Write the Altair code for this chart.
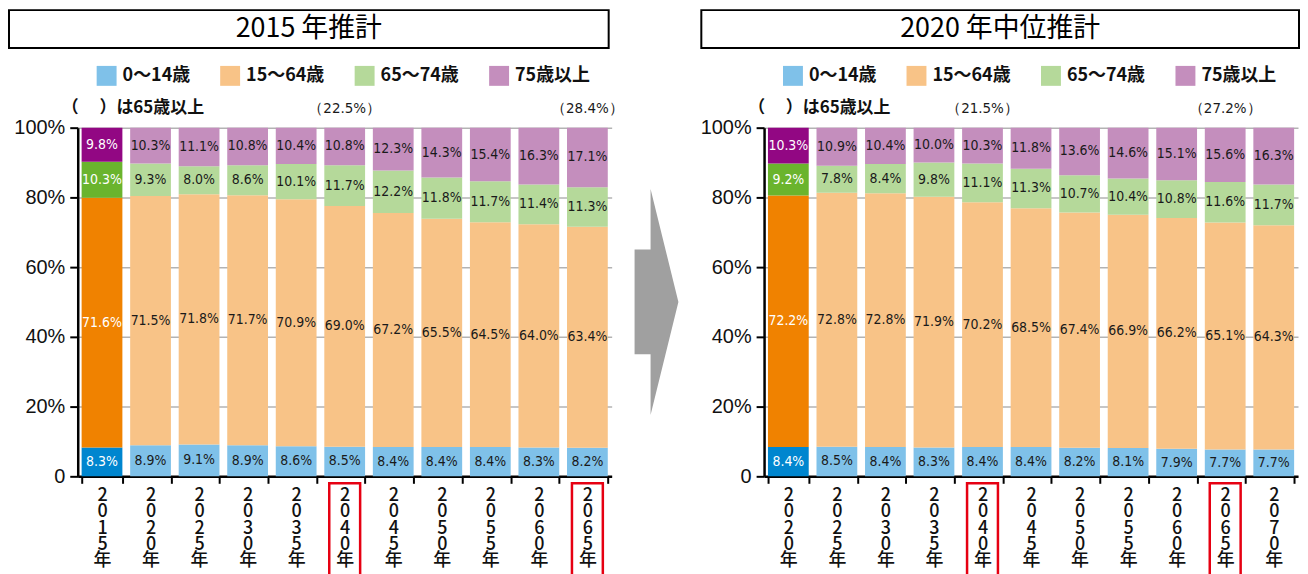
import altair as alt
import pandas as pd

CJK = "Noto Sans CJK JP"
NARROW = "Liberation Sans Narrow, Arial Narrow, DejaVu Sans Condensed, sans-serif"
SANS = "Liberation Sans, Arial, sans-serif"

groups = ["0〜14歳", "15〜64歳", "65〜74歳", "75歳以上"]
light_colors = ["#7fc1e9", "#f8c387", "#b5d99a", "#c48ebd"]
dark_colors = ["#0086cf", "#f08200", "#6ab42d", "#920783"]

# ---- 2015 projection ----
title_a = "2015 年推計"
years_a = ["2015年", "2020年", "2025年", "2030年", "2035年", "2040年",
           "2045年", "2050年", "2055年", "2060年", "2065年"]
a_0_14 = [8.3, 8.9, 9.1, 8.9, 8.6, 8.5, 8.4, 8.4, 8.4, 8.3, 8.2]
a_15_64 = [71.6, 71.5, 71.8, 71.7, 70.9, 69.0, 67.2, 65.5, 64.5, 64.0, 63.4]
a_65_74 = [10.3, 9.3, 8.0, 8.6, 10.1, 11.7, 12.2, 11.8, 11.7, 11.4, 11.3]
a_75 = [9.8, 10.3, 11.1, 10.8, 10.4, 10.8, 12.3, 14.3, 15.4, 16.3, 17.1]
a_note_years = ["2040年", "2065年"]
a_note_vals = ["（22.5%）", "（28.4%）"]

# ---- 2020 projection (medium) ----
title_b = "2020 年中位推計"
years_b = ["2020年", "2025年", "2030年", "2035年", "2040年", "2045年",
           "2050年", "2055年", "2060年", "2065年", "2070年"]
b_0_14 = [8.4, 8.5, 8.4, 8.3, 8.4, 8.4, 8.2, 8.1, 7.9, 7.7, 7.7]
b_15_64 = [72.2, 72.8, 72.8, 71.9, 70.2, 68.5, 67.4, 66.9, 66.2, 65.1, 64.3]
b_65_74 = [9.2, 7.8, 8.4, 9.8, 11.1, 11.3, 10.7, 10.4, 10.8, 11.6, 11.7]
b_75 = [10.3, 10.9, 10.4, 10.0, 10.3, 11.8, 13.6, 14.6, 15.1, 15.6, 16.3]
b_note_years = ["2040年", "2065年"]
b_note_vals = ["（21.5%）", "（27.2%）"]

caption = "（　 ）は65歳以上"
y_ticks = [0, 0.2, 0.4, 0.6, 0.8, 1.0]

color_domain = groups + [g + "*" for g in groups]
color_range = light_colors + dark_colors


def build(years, cols):
    rows = []
    for i, yr in enumerate(years):
        vals = [c[i] for c in cols]
        total = sum(vals)
        cum = 0.0
        for g, (name, v) in enumerate(zip(groups, vals)):
            dark = i == 0
            rows.append(dict(year=yr, group=name, value=v, ord=g,
                             ckey=name + ("*" if dark else ""),
                             mid=(cum + v / 2) / total,
                             label=f"{v:.1f}%", dark=dark))
            cum += v
    return pd.DataFrame(rows)


def panel(years, cols, note_years, note_vals, title, tx0, tx1):
    df = build(years, cols)
    notes = pd.DataFrame({"year": note_years, "note": note_vals})
    hl = pd.DataFrame({"year": note_years})
    X = alt.X("year:N", sort=years,
              scale=alt.Scale(paddingInner=0.16, paddingOuter=0.08),
              axis=alt.Axis(title=None, labelAngle=0,
                            labelExpr="split(datum.label, '')",
                            tickBand="extent"))
    bars = alt.Chart(df).mark_bar().encode(
        x=X,
        y=alt.Y("value:Q", stack="normalize",
                scale=alt.Scale(domain=[0, 1]),
                axis=alt.Axis(title=None, values=y_ticks,
                              labelExpr="datum.value == 0 ? '0' : format(datum.value, '.0%')")),
        color=alt.Color("ckey:N",
                        scale=alt.Scale(domain=color_domain, range=color_range),
                        legend=alt.Legend(values=groups, orient="none", legendX=19,
                                          legendY=-62, direction="horizontal",
                                          columnPadding=30, symbolType="square",
                                          symbolSize=400, symbolStrokeWidth=0,
                                          labelFont=CJK, labelFontSize=18,
                                          labelFontWeight="bold", labelColor="#111",
                                          labelOffset=6, title=None)),
        order=alt.Order("ord:Q"),
    )
    texts = alt.Chart(df).mark_text(font=NARROW, fontSize=14, baseline="middle").encode(
        x=X, y=alt.Y("mid:Q"), text="label:N",
        color=alt.condition("datum.dark", alt.value("white"), alt.value("#1a1a1a")),
    )
    note_marks = alt.Chart(notes).mark_text(font=NARROW, fontSize=15, baseline="middle",
                                            color="#1a1a1a").encode(
        x=X, y=alt.value(-20), text="note:N")
    cap = alt.Chart(alt.Data(values=[{"t": caption}])).mark_text(
        font=CJK, fontSize=17, fontWeight="bold", align="left", baseline="middle",
        color="#111").encode(
        x=alt.value(-16), y=alt.value(-20), text="t:N")
    box = alt.Chart(alt.Data(values=[{"t": title}])).mark_rect(
        fill="white", stroke="black", strokeWidth=2).encode(
        x=alt.value(tx0), x2=alt.value(tx1), y=alt.value(-118), y2=alt.value(-80))
    ttl = alt.Chart(alt.Data(values=[{"t": title}])).mark_text(
        font=CJK, fontSize=27, baseline="middle", color="black").encode(
        x=alt.value((tx0 + tx1) / 2), y=alt.value(-99), text="t:N")
    red = alt.Chart(hl).mark_bar(fillOpacity=0, stroke="#e60012", strokeWidth=2.5,
                                 size=31, clip=False).encode(
        x=X, y=alt.value(357), y2=alt.value(465))
    return alt.layer(box, ttl, cap, bars, texts, note_marks, red).properties(
        width=536, height=350)


left = panel(years_a, [a_0_14, a_15_64, a_65_74, a_75], a_note_years, a_note_vals,
             title_a, -69, 533)
right = panel(years_b, [b_0_14, b_15_64, b_65_74, b_75], b_note_years, b_note_vals,
              title_b, -63, 537)

arrow_path = ("M -1 -2.39 L -0.27 -2.39 L -0.27 -5.16 L 1 0 L -0.27 5.16 "
              "L -0.27 2.39 L -1 2.39 Z")
arrow = alt.Chart(alt.Data(values=[{"k": "arrow"}])).mark_point(
    shape=arrow_path, size=1936, filled=True, fill="#a0a0a0", opacity=1,
    strokeWidth=0).encode(x=alt.value(35), y=alt.value(175)).properties(
    width=133, height=350)

chart = alt.hconcat(left, arrow, right, spacing=10, bounds="flush").resolve_scale(
    color="independent").resolve_legend(color="independent").properties(
    padding=0
).configure_view(strokeWidth=0).configure_axisY(
    domainColor="black", domainWidth=2.5, tickColor="black", tickWidth=2,
    tickSize=8, labelFont=SANS, labelFontSize=20, labelPadding=5,
    labelColor="#111", gridColor="#b3b3b3", gridWidth=1.5
).configure_axisX(
    domainColor="black", domainWidth=2.5, tickColor="black", tickWidth=2,
    tickSize=7, labelFont=CJK, labelFontSize=18, labelFontWeight=500,
    labelLineHeight=16.5, labelPadding=3, labelColor="#111", grid=False
)

chart.save("out.html", embed_options={"renderer": "svg", "actions": False})
